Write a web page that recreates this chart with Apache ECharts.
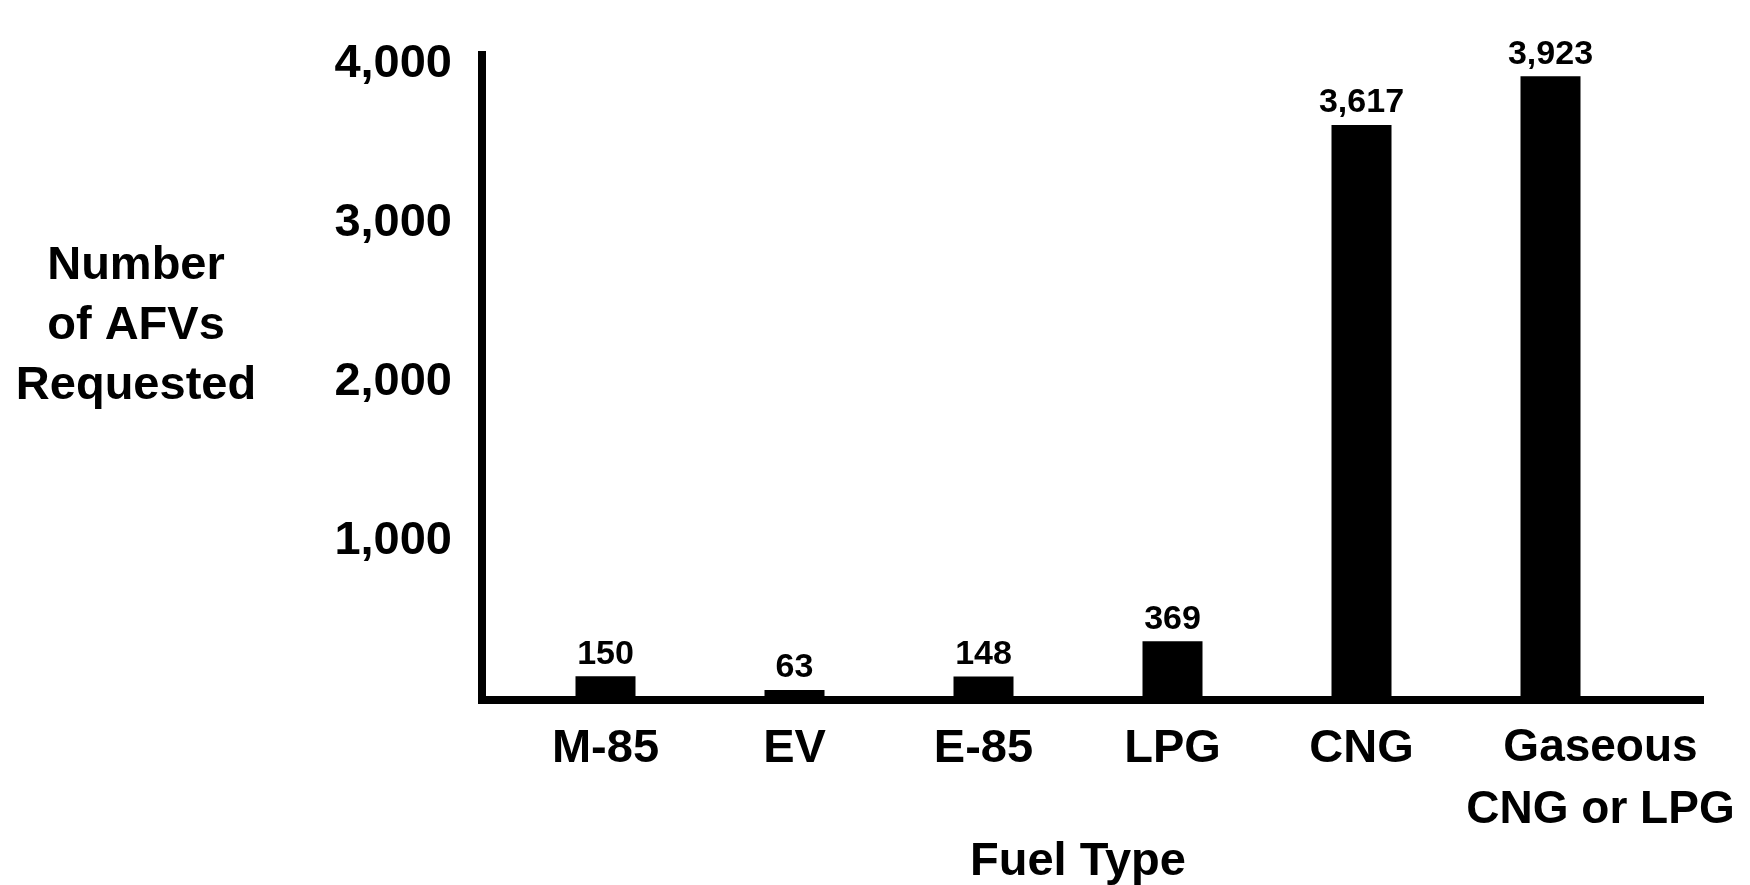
<!DOCTYPE html>
<html>
<head>
<meta charset="utf-8">
<script src="https://cdn.jsdelivr.net/npm/echarts@6/dist/echarts.min.js"></script>
<style>
html,body{margin:0;padding:0;background:#fff;}
#chart{width:1750px;height:885px;}
</style>
</head>
<body>
<div id="chart"></div>
<script>
var categories = ['M-85', 'EV', 'E-85', 'LPG', 'CNG', 'Gaseous\nCNG or LPG'];
var values = [150, 63, 148, 369, 3617, 3923];
var yTicks = [0, 1000, 2000, 3000, 4000];

var FONT = '"Liberation Sans", Arial, Helvetica, sans-serif';
var yMax = 4057;

var chart = echarts.init(document.getElementById('chart'), null, {renderer: 'canvas'});
chart.setOption({
  backgroundColor: '#ffffff',
  animation: false,
  title: [{
    text: 'Number\nof AFVs\nRequested',
    left: 131, top: 231, textAlign: 'center', padding: 5,
    textStyle: {fontFamily: FONT, fontWeight: 'bold', fontSize: 47, color: '#000', lineHeight: 60}
  }],
  grid: [
    {left: 511, right: 105, top: 55, bottom: 185, containLabel: false, outerBoundsMode: 'none'},
    {left: 482, right: 50, top: 55, bottom: 185, containLabel: false, outerBoundsMode: 'none'}
  ],
  xAxis: [
    {
      type: 'category', gridIndex: 0, data: categories,
      axisLine: {show: false}, axisTick: {show: false},
      axisLabel: {
        fontFamily: FONT, fontWeight: 'bold', fontSize: 47, color: '#000',
        lineHeight: 64, margin: 17, interval: 0,
        formatter: function (v, i) {
          if (i === categories.length - 1) {
            return v.split('\n').map(function (s) { return '{g|' + s + '}'; }).join('\n');
          }
          return v;
        },
        rich: {
          g: {fontFamily: FONT, fontWeight: 'bold', fontSize: 46, color: '#000', lineHeight: 62, padding: [0, 0, 0, 100]}
        }
      },
      name: 'Fuel Type', nameLocation: 'middle', nameGap: 139,
      nameMoveOverlap: false,
      nameTextStyle: {fontFamily: FONT, fontWeight: 'bold', fontSize: 47, color: '#000', verticalAlign: 'top'}
    },
    {
      type: 'value', gridIndex: 1, min: 0, max: 1,
      axisLine: {show: true, lineStyle: {color: '#000', width: 8, cap: 'square'}},
      axisTick: {show: false}, axisLabel: {show: false}, splitLine: {show: false}
    }
  ],
  yAxis: [
    {
      type: 'value', gridIndex: 0, min: yTicks[0], max: yMax, interval: yTicks[1] - yTicks[0],
      axisLine: {show: false}, axisTick: {show: false}, splitLine: {show: false},
      axisLabel: {
        fontFamily: FONT, fontWeight: 'bold', fontSize: 47, color: '#000', margin: 59,
        showMinLabel: false, showMaxLabel: false,
        formatter: function (v) { return yTicks.indexOf(v) > 0 ? v.toLocaleString('en-US') : ''; }
      }
    },
    {
      type: 'value', gridIndex: 1, min: yTicks[0], max: yMax,
      axisLine: {show: true, lineStyle: {color: '#000', width: 8, cap: 'square'}},
      axisTick: {show: false}, axisLabel: {show: false}, splitLine: {show: false}
    }
  ],
  series: [{
    type: 'bar', xAxisIndex: 0, yAxisIndex: 0,
    data: values, barWidth: 60,
    itemStyle: {color: '#000'},
    label: {
      show: true, position: 'top', distance: 5,
      fontFamily: FONT, fontWeight: 'bold', fontSize: 34, color: '#000',
      formatter: function (p) { return p.value.toLocaleString('en-US'); }
    }
  }]
});
</script>
</body>
</html>
